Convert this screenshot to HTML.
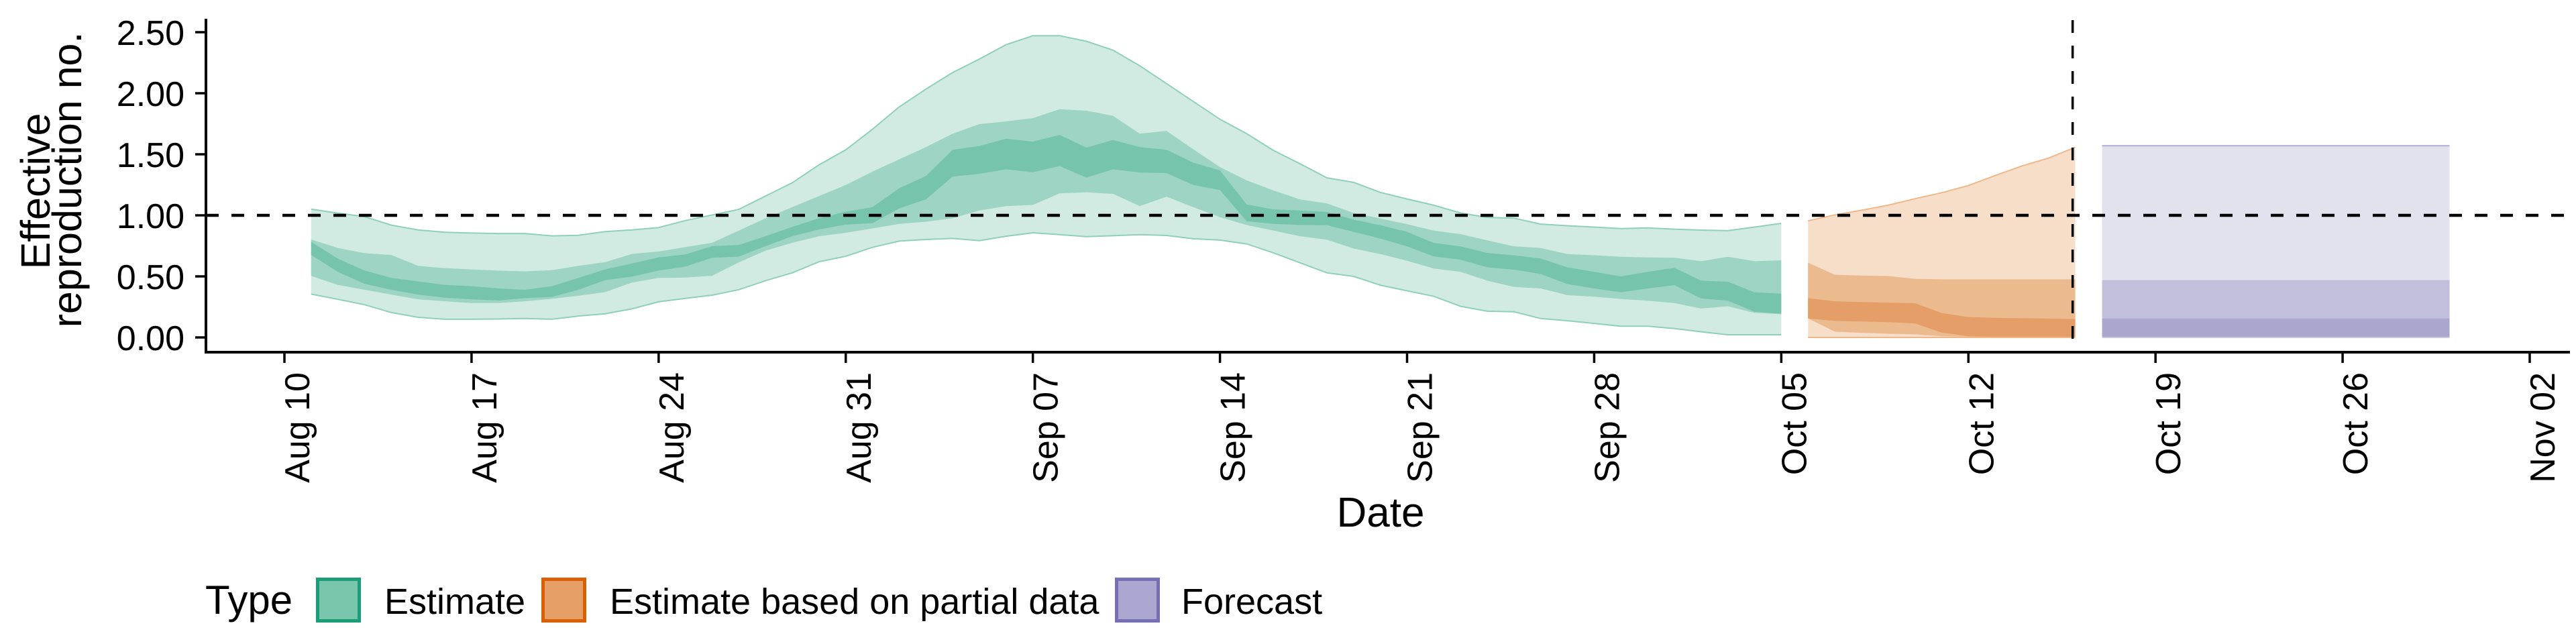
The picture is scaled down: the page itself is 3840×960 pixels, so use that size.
<!DOCTYPE html>
<html><head><meta charset="utf-8">
<style>
html,body{margin:0;padding:0;background:#fff;}
svg{display:block;font-family:"Liberation Sans",Arial,sans-serif;}
</style></head>
<body>
<svg id="chart" width="3840" height="960" viewBox="0 0 3840 960" xmlns="http://www.w3.org/2000/svg">
  <g id="bands"></g>
  <g id="refs"></g>
  <g id="axes"></g>
  <text x="2058" y="785" font-size="62" text-anchor="middle">Date</text>
  <text transform="translate(74,285) rotate(-90)" font-size="61" text-anchor="middle">Effective</text>
  <text transform="translate(121,268) rotate(-90)" font-size="61" text-anchor="middle">reproduction no.</text>
  <g>
    <text x="306" y="915" font-size="60">Type</text>
    <g>
      <rect x="473.5" y="863.5" width="62" height="62" fill="#79c6ad" stroke="#1b9e77" stroke-width="5"/>
      <text x="573" y="915" font-size="54">Estimate</text>
    </g>
    <g>
      <rect x="809.5" y="863.5" width="62" height="62" fill="#e69f67" stroke="#d95f02" stroke-width="5"/>
      <text x="909" y="915" font-size="54">Estimate based on partial data</text>
    </g>
    <g>
      <rect x="1664.5" y="863.5" width="62" height="62" fill="#aaa8d0" stroke="#7570b3" stroke-width="5"/>
      <text x="1761" y="915" font-size="54">Forecast</text>
    </g>
  </g>
</svg>
<script>
// ---- data (day offsets relative to Aug 10) ----
const estDays = Array.from({length:56},(_,i)=>i+1); // Aug 11 .. Oct 05
const estLo90 = [.355,.312,.268,.204,.165,.149,.149,.151,.155,.149,.175,.194,.234,.292,.32,.346,.391,.465,.529,.620,.665,.738,.789,.802,.811,.793,.829,.857,.842,.826,.833,.842,.835,.808,.797,.766,.693,.611,.529,.500,.428,.382,.337,.255,.215,.210,.155,.137,.115,.092,.092,.073,.046,.022,.022,.022];
const estHi90 = [1.051,1.018,.989,.92,.881,.861,.855,.851,.851,.832,.836,.867,.881,.9,.957,1.003,1.049,1.158,1.267,1.414,1.537,1.705,1.888,2.034,2.170,2.280,2.398,2.471,2.471,2.426,2.353,2.225,2.079,1.933,1.787,1.669,1.532,1.422,1.307,1.270,1.188,1.134,1.083,1.019,.983,.977,.928,.915,.904,.892,.897,.887,.879,.874,.904,.934];
const estLo50 = [.504,.430,.390,.351,.312,.296,.282,.282,.296,.316,.341,.371,.449,.488,.49,.505,.615,.711,.775,.829,.857,.893,.930,.948,.976,1.040,1.076,1.085,1.180,1.189,1.176,1.076,1.153,1.067,.985,.921,.875,.829,.800,.728,.683,.628,.565,.537,.465,.414,.401,.346,.334,.315,.301,.282,.237,.255,.201,.19];
const estHi50 = [.802,.733,.690,.675,.586,.567,.557,.547,.541,.551,.586,.616,.684,.704,.74,.775,.875,.976,1.067,1.158,1.249,1.358,1.459,1.559,1.669,1.747,1.769,1.796,1.869,1.857,1.815,1.669,1.692,1.541,1.395,1.286,1.204,1.131,1.097,1.019,.974,.928,.874,.846,.795,.746,.733,.683,.673,.661,.655,.652,.624,.661,.624,.632];
const estLo20 = [.675,.537,.439,.390,.351,.326,.312,.302,.322,.332,.390,.469,.498,.547,.58,.653,.662,.748,.829,.884,.924,.935,1.057,1.131,1.317,1.340,1.377,1.353,1.404,1.309,1.377,1.350,1.346,1.249,1.207,.952,.930,.921,.919,.865,.810,.746,.664,.637,.574,.555,.519,.437,.401,.370,.401,.428,.319,.301,.210,.195];
const estHi20 = [.783,.645,.547,.488,.459,.430,.420,.401,.390,.420,.488,.557,.606,.655,.68,.748,.757,.829,.906,.976,1.030,1.067,1.222,1.322,1.537,1.568,1.628,1.604,1.659,1.555,1.617,1.559,1.537,1.432,1.368,1.089,1.049,1.040,1.028,.965,.919,.865,.774,.746,.692,.673,.646,.574,.537,.500,.537,.570,.465,.456,.370,.359];

const partDays = [57,58,59,60,61,62,63,64,65,66,67]; // Oct 06 .. Oct 16
const partLo90 = [0,0,0,0,0,0,0,0,0,0,0];
const partHi90 = [.955,1.004,1.042,1.083,1.136,1.185,1.244,1.326,1.404,1.469,1.557];
const partLo50 = [.155,.047,.038,.03,.025,.01,.005,.005,.005,.005,.005];
const partHi50 = [.612,.514,.507,.503,.48,.476,.476,.476,.476,.476,.476];
const partLo20 = [.155,.135,.13,.125,.115,.04,.01,.005,.005,.005,.005];
const partHi20 = [.322,.296,.29,.285,.28,.2,.167,.161,.157,.155,.151];

const fcDays = [68,81]; // Oct 17 .. Oct 30
const fcLo90 = [0,0];
const fcHi90 = [1.57,1.57];
const fcLo50 = [0,0];
const fcHi50 = [.47,.47];
const fcLo20 = [0,0];
const fcHi20 = [.155,.155];

const yTicks = [0,0.5,1,1.5,2,2.5];
const yTickLabels = ["0.00","0.50","1.00","1.50","2.00","2.50"];
const xTicks = [0,7,14,21,28,35,42,49,56,63,70,77,84];
const xTickLabels = ["Aug 10","Aug 17","Aug 24","Aug 31","Sep 07","Sep 14","Sep 21","Sep 28","Oct 05","Oct 12","Oct 19","Oct 26","Nov 02"];
const refY = 1;
const refDay = 66.9;

// ---- scales ----
const X0=424, X84=3771;
function xs(d){ return X0 + (X84-X0)*d/84; }
function ys(v){ return 503 - 182*v; }

const NS="http://www.w3.org/2000/svg";
function mk(tag, attrs, parent){
  const e=document.createElementNS(NS,tag);
  for(const k in attrs) e.setAttribute(k,attrs[k]);
  parent.appendChild(e); return e;
}
const bands=document.getElementById('bands');
function area(days, lo, hi, fill, name){
  let d="";
  for(let i=0;i<days.length;i++) d+=(i?"L":"M")+xs(days[i]).toFixed(1)+","+ys(hi[i]).toFixed(1);
  for(let i=days.length-1;i>=0;i--) d+="L"+xs(days[i]).toFixed(1)+","+ys(lo[i]).toFixed(1);
  const p=mk('path',{d:d+"Z",fill:fill},bands);
  
  
}
function edge(days, vals, stroke, name){
  let d="";
  for(let i=0;i<days.length;i++) d+=(i?"L":"M")+xs(days[i]).toFixed(1)+","+ys(vals[i]).toFixed(1);
  const p=mk('path',{d:d,fill:"none",stroke:stroke,"stroke-width":2},bands);
  
  
}
area(estDays, estLo90, estHi90, "#d2ebe2", "estimate-band-90");
area(estDays, estLo50, estHi50, "#9dd4c3", "estimate-band-50");
area(estDays, estLo20, estHi20, "#77c4ad", "estimate-band-20");
edge(estDays, estHi90, "#8fd0bb", "estimate-upper-edge");
edge(estDays, estLo90, "#8fd0bb", "estimate-lower-edge");
area(partDays, partLo90, partHi90, "#f6dec9", "partial-band-90");
area(partDays, partLo50, partHi50, "#ecba8f", "partial-band-50");
area(partDays, partLo20, partHi20, "#e59e67", "partial-band-20");
edge(partDays, partHi90, "#f0b88a", "partial-upper-edge");
edge(partDays, partLo90, "#f0b88a", "partial-lower-edge");
area(fcDays, fcLo90, fcHi90, "#e2e2ee", "forecast-band-90");
area(fcDays, fcLo50, fcHi50, "#c2bfdc", "forecast-band-50");
area(fcDays, fcLo20, fcHi20, "#aaa7ce", "forecast-band-20");
edge(fcDays, fcHi90, "#b0aed8", "forecast-upper-edge");
edge(fcDays, fcLo90, "#c8c6e4", "forecast-lower-edge");

// reference lines
const refs=document.getElementById('refs');
const hl=mk('line',{x1:307,x2:3831,y1:ys(refY),y2:ys(refY),stroke:"#000","stroke-width":4.5,"stroke-dasharray":"19 19"},refs);


const vl=mk('line',{x1:xs(refDay),x2:xs(refDay),y1:30,y2:525,stroke:"#000","stroke-width":3.5,"stroke-dasharray":"19 19"},refs);



// axes
const axes=document.getElementById('axes');
const ya=mk('line',{x1:307,x2:307,y1:28,y2:527,stroke:"#000","stroke-width":4},axes);


const xa=mk('line',{x1:305,x2:3831,y1:525,y2:525,stroke:"#000","stroke-width":4},axes);


yTicks.forEach((v,i)=>{
  const t=mk('line',{x1:291,x2:307,y1:ys(v),y2:ys(v),stroke:"#000","stroke-width":3.5},axes);
  
  
  const l=mk('text',{x:275,y:ys(v)+19,"font-size":52,"text-anchor":"end"},axes);
  l.textContent=yTickLabels[i];
  
  
});
xTicks.forEach((d,i)=>{
  const x=xs(d);
  const t=mk('line',{x1:x,x2:x,y1:525,y2:541,stroke:"#000","stroke-width":3.5},axes);
  
  
  const l=mk('text',{transform:"translate("+(x+37)+",555) rotate(-90)","font-size":52,"text-anchor":"end"},axes);
  l.textContent=xTickLabels[i];
  
  
});
</script>
</body></html>
